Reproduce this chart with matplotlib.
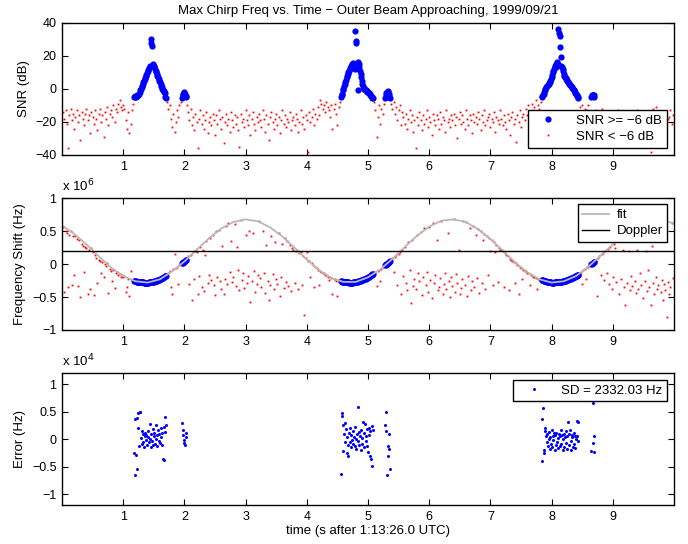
import matplotlib
matplotlib.use('Agg')
import matplotlib.pyplot as plt
from matplotlib.ticker import FuncFormatter
import numpy as np

plt.rcParams['font.family'] = ['Liberation Sans', 'DejaVu Sans']
plt.rcParams['font.size'] = 9

# ---- samples with SNR < -6 dB (red) : time, SNR (dB), freq shift (x1e6 Hz)
r1_t = [0.02, 0.04, 0.06, 0.08, 0.10, 0.12, 0.14, 0.16, 0.18, 0.20,
        0.22, 0.24, 0.26, 0.28, 0.30, 0.32, 0.34, 0.36, 0.38, 0.40,
        0.42, 0.44, 0.46, 0.48, 0.50, 0.52, 0.54, 0.56, 0.58, 0.60,
        0.62, 0.64, 0.66, 0.68, 0.70, 0.72, 0.74, 0.76, 0.78, 0.80,
        0.82, 0.84, 0.86, 0.88, 0.90, 0.92, 0.94, 0.96, 0.98, 1.00,
        1.02, 1.04, 1.06, 1.08, 1.10, 1.12, 1.14, 1.16]
r1_snr = [-14, -18, -13, -21, -36, -16, -12, -19, -15, -24,
          -17, -13, -20, -16, -31, -14, -18, -22, -15, -12,
          -19, -16, -27, -14, -17, -21, -13, -18, -25, -15,
          -12, -20, -16, -29, -14, -18, -11, -22, -15, -13,
          -17, -10, -20, -12, -14, -9, -7, -11, -13, -10,
          -12, -19, -24, -14, -27, -21, -13, -9]
r1_f = [0.56, -0.42, 0.51, 0.47, -0.35, 0.45, 0.50, -0.31, 0.43, -0.16,
        0.42, 0.38, -0.33, 0.36, -0.50, 0.31, 0.27, -0.12, 0.26, 0.24,
        -0.46, 0.22, -0.38, 0.25, 0.18, -0.47, 0.14, 0.10, -0.28, 0.07,
        0.05, -0.13, 0.04, -0.20, 0.00, -0.03, 0.02, -0.44, -0.07, -0.10,
        -0.25, -0.09, -0.36, -0.14, -0.12, -0.17, -0.15, -0.19, -0.16, -0.20,
        -0.18, -0.42, -0.35, -0.23, -0.48, -0.10, -0.24, -0.26]

r2_t = [1.72, 1.74, 1.76, 1.78, 1.80, 1.82, 1.84, 1.86, 1.88, 1.90, 1.92, 1.94]
r2_snr = [-8, -12, -10, -18, -23, -15, -26, -20, -13, -17, -10, -8]
r2_f = [-0.15, -0.13, -0.10, -0.35, -0.45, -0.08, 0.15, -0.06, -0.04, -0.30, -0.02, 0.00]

r3_t = [2.04, 2.06, 2.08, 2.10, 2.12, 2.14, 2.16, 2.18, 2.20, 2.22,
        2.24, 2.26, 2.28, 2.30, 2.32, 2.34, 2.36, 2.38, 2.40, 2.42,
        2.44, 2.46, 2.48, 2.50, 2.52, 2.54, 2.56, 2.58, 2.60, 2.62,
        2.64, 2.66, 2.68, 2.70, 2.72, 2.74, 2.76, 2.78, 2.80, 2.82,
        2.84, 2.86, 2.88, 2.90, 2.92, 2.94, 2.96, 2.98, 3.00, 3.02,
        3.04, 3.06, 3.08, 3.10, 3.12, 3.14, 3.16, 3.18, 3.20, 3.22,
        3.24, 3.26, 3.28, 3.30, 3.32, 3.34, 3.36, 3.38, 3.40, 3.42,
        3.44, 3.46, 3.48, 3.50, 3.52, 3.54, 3.56, 3.58, 3.60, 3.62,
        3.64, 3.66, 3.68, 3.70, 3.72, 3.74, 3.76, 3.78, 3.80, 3.82,
        3.84, 3.86, 3.88, 3.90, 3.92, 3.94, 3.96, 3.98, 4.00, 4.02,
        4.04, 4.06, 4.08, 4.10, 4.12, 4.14, 4.16, 4.18, 4.20, 4.22,
        4.24, 4.26, 4.28, 4.30, 4.32, 4.34, 4.36, 4.38, 4.40, 4.42,
        4.44, 4.46, 4.48, 4.50, 4.52, 4.54]
r3_snr = [-10, -14, -19, -12, -22, -17, -25, -15, -20, -36,
          -18, -13, -21, -16, -24, -19, -14, -27, -20, -17,
          -22, -15, -19, -28, -16, -21, -13, -18, -24, -17,
          -33, -20, -15, -22, -18, -26, -14, -19, -23, -16,
          -21, -17, -25, -35, -15, -20, -18, -23, -13, -19,
          -22, -16, -28, -18, -14, -21, -25, -17, -20, -15,
          -19, -23, -13, -18, -26, -16, -21, -31, -17, -14,
          -20, -24, -18, -15, -22, -17, -27, -19, -13, -21,
          -16, -23, -18, -20, -14, -25, -19, -17, -22, -15,
          -18, -26, -20, -13, -21, -17, -24, -16, -19, -38,
          -14, -20, -17, -12, -22, -15, -18, -11, -16, -7,
          -9, -12, -10, -14, -8, -11, -13, -17, -10, -24,
          -12, -9, -15, -22, -11, -8]
r3_f = [0.07, 0.12, -0.30, 0.14, -0.54, 0.18, -0.22, 0.20, 0.19, -0.46,
        -0.18, 0.26, -0.35, 0.22, -0.41, 0.14, 0.35, -0.28, -0.16, 0.40,
        -0.24, 0.45, -0.31, -0.47, 0.50, -0.20, 0.52, -0.26, -0.38, 0.28,
        -0.46, -0.22, 0.58, -0.30, 0.63, -0.12, 0.35, -0.27, -0.19, 0.61,
        -0.33, 0.26, -0.09, -0.40, 0.67, -0.24, -0.14, -0.36, 0.45, -0.28,
        -0.18, 0.50, -0.57, -0.25, 0.47, -0.11, -0.42, -0.30, -0.16, 0.66,
        -0.21, -0.35, 0.50, -0.13, -0.44, 0.29, -0.26, -0.55, -0.32, 0.42,
        -0.15, -0.38, 0.34, -0.23, -0.30, 0.47, -0.49, -0.19, 0.30, -0.36,
        0.40, -0.27, 0.35, -0.33, 0.29, -0.41, 0.24, 0.21, -0.28, 0.20,
        0.21, -0.37, 0.17, 0.19, -0.31, 0.13, -0.77, 0.10, 0.18, 0.05,
        0.05, -0.20, 0.02, -0.01, -0.34, -0.05, -0.06, -0.09, -0.32, -0.10,
        -0.12, -0.13, -0.14, -0.16, -0.17, -0.19, -0.24, -0.19, -0.21, -0.45,
        -0.23, -0.22, -0.25, -0.48, -0.26, -0.25]

r4_t = [5.10, 5.12, 5.14, 5.16, 5.18, 5.20, 5.22, 5.24, 5.26]
r4_snr = [-8, -13, -29, -17, -10, -21, -12, -15, -9]
r4_f = [-0.14, -0.12, -0.33, -0.10, -0.09, -0.25, -0.07, -0.05, -0.03]

r5_t = [5.38, 5.40, 5.42, 5.44, 5.46, 5.48, 5.50, 5.52, 5.54, 5.56,
        5.58, 5.60, 5.62, 5.64, 5.66, 5.68, 5.70, 5.72, 5.74, 5.76,
        5.78, 5.80, 5.82, 5.84, 5.86, 5.88, 5.90, 5.92, 5.94, 5.96,
        5.98, 6.00, 6.02, 6.04, 6.06, 6.08, 6.10, 6.12, 6.14, 6.16,
        6.18, 6.20, 6.22, 6.24, 6.26, 6.28, 6.30, 6.32, 6.34, 6.36,
        6.38, 6.40, 6.42, 6.44, 6.46, 6.48, 6.50, 6.52, 6.54, 6.56,
        6.58, 6.60, 6.62, 6.64, 6.66, 6.68, 6.70, 6.72, 6.74, 6.76,
        6.78, 6.80, 6.82, 6.84, 6.86, 6.88, 6.90, 6.92, 6.94, 6.96,
        6.98, 7.00, 7.02, 7.04, 7.06, 7.08, 7.10, 7.12, 7.14, 7.16,
        7.18, 7.20, 7.22, 7.24, 7.26, 7.28, 7.30, 7.32, 7.34, 7.36,
        7.38, 7.40, 7.42, 7.44, 7.46, 7.48, 7.50, 7.52, 7.54, 7.56,
        7.58, 7.60, 7.62, 7.64, 7.66, 7.68, 7.70, 7.72, 7.74, 7.76,
        7.78, 7.80, 7.82]
r5_snr = [-9, -12, -8, -15, -11, -19, -13, -10, -22, -14,
          -17, -21, -15, -24, -18, -13, -20, -16, -26, -19,
          -36, -17, -22, -14, -19, -25, -16, -21, -18, -13,
          -23, -17, -20, -28, -15, -19, -22, -16, -18, -24,
          -14, -21, -17, -19, -26, -13, -20, -18, -23, -16,
          -19, -15, -22, -17, -30, -18, -14, -21, -16, -20,
          -24, -13, -18, -22, -16, -19, -27, -15, -20, -17,
          -21, -14, -18, -25, -16, -20, -13, -22, -19, -17,
          -15, -23, -18, -20, -14, -26, -17, -19, -21, -13,
          -18, -22, -16, -20, -24, -15, -19, -28, -17, -14,
          -21, -18, -32, -16, -20, -13, -23, -17, -15, -19,
          -12, -16, -10, -14, -19, -9, -13, -11, -7, -15,
          -10, -12, -8]
r5_f = [0.07, 0.09, -0.12, 0.11, 0.14, -0.31, 0.16, 0.18, -0.45, 0.22,
        -0.18, 0.26, -0.28, -0.40, 0.33, -0.09, -0.59, 0.37, -0.33, -0.22,
        -0.38, 0.44, -0.14, -0.26, 0.49, -0.47, -0.20, 0.55, -0.31, -0.12,
        -0.43, 0.56, -0.24, -0.52, 0.63, -0.29, -0.17, 0.36, -0.40, -0.34,
        -0.21, 0.66, -0.45, -0.30, -0.13, -0.37, 0.47, -0.25, -0.50, -0.19,
        -0.33, 0.68, -0.42, -0.15, -0.28, 0.21, -0.46, -0.36, -0.23, 0.66,
        -0.31, 0.64, -0.48, -0.18, 0.55, -0.40, -0.26, 0.58, -0.34, 0.45,
        -0.21, 0.53, -0.44, 0.50, -0.29, 0.36, 0.46, -0.38, 0.43, -0.16,
        0.39, 0.20, 0.36, -0.32, 0.33, 0.19, 0.29, -0.27, 0.25, 0.21,
        0.22, 0.20, -0.35, 0.17, 0.14, 0.12, -0.40, 0.08, 0.07, 0.05,
        0.04, -0.28, 0.01, -0.01, -0.46, -0.05, -0.06, -0.22, -0.09, -0.10,
        -0.11, -0.13, -0.14, -0.32, -0.16, -0.17, -0.19, -0.20, -0.21, -0.38,
        -0.22, -0.23, -0.24]

r6_t = [8.46, 8.48, 8.50, 8.52, 8.54, 8.56, 8.58, 8.60, 8.62]
r6_snr = [-11, -14, -10, -16, -12, -18, -13, -10, -15]
r6_f = [-0.14, -0.12, -0.30, -0.09, -0.07, -0.22, -0.05, -0.04, -0.02]

r7_t = [8.72, 8.74, 8.76, 8.78, 8.80, 8.82, 8.84, 8.86, 8.88, 8.90,
        8.92, 8.94, 8.96, 8.98, 9.00, 9.02, 9.04, 9.06, 9.08, 9.10,
        9.12, 9.14, 9.16, 9.18, 9.20, 9.22, 9.24, 9.26, 9.28, 9.30,
        9.32, 9.34, 9.36, 9.38, 9.40, 9.42, 9.44, 9.46, 9.48, 9.50,
        9.52, 9.54, 9.56, 9.58, 9.60, 9.62, 9.64, 9.66, 9.68, 9.70,
        9.72, 9.74, 9.76, 9.78, 9.80, 9.82, 9.84, 9.86, 9.88, 9.90,
        9.92, 9.94, 9.96, 9.98]
r7_snr = [-13, -17, -21, -15, -19, -12, -24, -18, -16, -20,
          -14, -22, -17, -19, -26, -15, -20, -18, -13, -23,
          -17, -19, -15, -21, -18, -28, -16, -20, -14, -22,
          -18, -16, -24, -19, -13, -21, -17, -20, -15, -23,
          -19, -14, -22, -17, -20, -38, -16, -12, -18, -11,
          -21, -17, -15, -23, -19, -16, -25, -14, -20, -18,
          -17, -13, -21, -16]
r7_f = [0.06, -0.48, 0.09, 0.12, -0.16, 0.15, 0.17, -0.24, 0.20, -0.14,
        0.23, -0.30, 0.26, -0.37, -0.20, 0.30, 0.24, -0.27, 0.35, -0.45,
        0.38, -0.22, 0.21, -0.34, -0.62, 0.46, -0.29, 0.20, -0.40, -0.18,
        -0.33, 0.55, -0.26, -0.44, 0.22, -0.38, -0.13, -0.31, 0.61, -0.52,
        -0.25, 0.20, -0.41, -0.09, -0.35, -0.62, 0.27, -0.28, -0.46, -0.20,
        -0.37, -0.31, 0.68, -0.43, -0.24, -0.55, -0.30, -0.39, -0.80, -0.27,
        -0.45, -0.34, 0.63, -0.21]

# ---- samples with SNR >= -6 dB (blue): time, SNR, freq (x1e6 Hz), error (x1e4 Hz)
b1_t = [1.18, 1.19, 1.20, 1.21, 1.22, 1.23, 1.24, 1.25, 1.26, 1.27,
        1.28, 1.29, 1.30, 1.31, 1.32, 1.33, 1.34, 1.35, 1.36, 1.37,
        1.38, 1.39, 1.40, 1.41, 1.42, 1.43, 1.44, 1.45, 1.46, 1.47,
        1.48, 1.49, 1.50, 1.51, 1.52, 1.53, 1.54, 1.55, 1.56, 1.57,
        1.58, 1.59, 1.60, 1.61, 1.62, 1.63, 1.64, 1.65, 1.66, 1.67,
        1.68, 1.69, 1.70]
b1_snr = [-5, -5, -4.5, -5, -4.5, -4, -4, -3.5, -3, -2,
          -1, 0, 1, 2, 3, 4, 5, 6, 6.5, 7.5,
          8.5, 9.5, 10.5, 11.5, 12.5, 13, 14, 28, 30, 26,
          15, 14.5, 14, 13, 12, 11, 10, 9, 8, 7,
          6, 5, 4, 3, 2, 1, 0, -1, -1.5, -2,
          -2.5, -5, -5.5]
b1_f = [-0.255, -0.257, -0.260, -0.262, -0.264, -0.266, -0.268, -0.270, -0.271, -0.272,
        -0.273, -0.274, -0.275, -0.276, -0.277, -0.278, -0.279, -0.280, -0.280, -0.280,
        -0.280, -0.280, -0.280, -0.279, -0.278, -0.277, -0.276, -0.275, -0.273, -0.271,
        -0.269, -0.267, -0.265, -0.262, -0.259, -0.256, -0.253, -0.250, -0.246, -0.242,
        -0.238, -0.234, -0.230, -0.225, -0.220, -0.215, -0.210, -0.205, -0.199, -0.193,
        -0.187, -0.181, -0.175]
b1_err = [-0.25, 0.36, -0.66, -0.28, 0.39, -0.55, 0.47, 0.20, -0.12, 0.50,
          0.49, 0.02, -0.08, 0.15, -0.05, 0.10, -0.15, 0.06, 0.12, -0.02,
          0.08, -0.10, 0.03, 0.14, -0.06, 0.27, 0.01, -0.14, 0.09, -0.04,
          0.18, -0.11, 0.05, 0.11, -0.09, 0.26, 0.00, -0.13, 0.07, 0.16,
          -0.03, 0.10, -0.07, 0.21, 0.04, -0.10, 0.12, -0.36, -0.38, 0.22,
          0.13, 0.40, 0.25]

bb1_t = [1.96, 1.97, 1.98, 1.99, 2.00, 2.01, 2.02, 2.03]
bb1_snr = [-5.5, -4, -3, -2, -2.5, -3, -4.5, -5]
bb1_f = [0.010, 0.018, 0.025, 0.033, 0.040, 0.049, 0.058, 0.067]
bb1_err = [0.30, 0.17, 0.08, -0.01, -0.07, -0.10, 0.12, 0.03]

b2_t = [4.56, 4.57, 4.58, 4.59, 4.60, 4.61, 4.62, 4.63, 4.64, 4.65,
        4.66, 4.67, 4.68, 4.69, 4.70, 4.71, 4.72, 4.73, 4.74, 4.75,
        4.76, 4.77, 4.78, 4.79, 4.80, 4.81, 4.82, 4.83, 4.84, 4.85,
        4.86, 4.87, 4.88, 4.89, 4.90, 4.91, 4.92, 4.93, 4.94, 4.95,
        4.96, 4.97, 4.98, 4.99, 5.00, 5.01, 5.02, 5.03, 5.04, 5.05,
        5.06, 5.07, 5.08]
b2_snr = [-5, -4, -3, -1, 0, 1.5, 3, 4, 5.5, 7,
          8, 9, 10, 11, 12, 12.5, 13.5, 14, 15, 15.5,
          14, 13, 12, 35, 28, 29, 14, -1, 16, 15,
          13, 11, 9, 7, 5, 3, 1.5, 0.5, 0, -0.5,
          -1, -1, -1.5, -2, -2, -2.5, -2.5, -3, -3.5, -4.5,
          -5, -5.5, -5.5]
b2_f = [-0.258, -0.261, -0.264, -0.267, -0.270, -0.271, -0.272, -0.273, -0.274, -0.275,
        -0.276, -0.277, -0.278, -0.279, -0.280, -0.280, -0.280, -0.280, -0.280, -0.280,
        -0.278, -0.276, -0.274, -0.272, -0.270, -0.268, -0.266, -0.264, -0.262, -0.260,
        -0.257, -0.254, -0.251, -0.248, -0.245, -0.241, -0.237, -0.233, -0.229, -0.225,
        -0.220, -0.215, -0.210, -0.205, -0.200, -0.194, -0.188, -0.182, -0.176, -0.170,
        -0.163, -0.157, -0.150]
b2_err = [-0.63, 0.47, 0.42, -0.21, 0.26, 0.10, 0.29, -0.05, 0.18, -0.25,
          0.04, -0.10, -0.30, 0.12, -0.06, 0.20, -0.15, 0.07, -0.02, 0.15,
          -0.09, 0.03, -0.12, 0.22, 0.01, -0.18, 0.09, 0.59, -0.04, 0.13,
          -0.11, 0.06, -0.20, 0.16, 0.02, -0.08, 0.32, 0.11, -0.14, 0.28,
          0.05, -0.03, 0.19, -0.12, -0.24, 0.08, 0.21, -0.30, 0.14, -0.37,
          -0.49, 0.24, 0.17]

bb2_t = [5.28, 5.29, 5.30, 5.31, 5.32, 5.33, 5.34, 5.35, 5.36]
bb2_snr = [-5.5, -4, -2.5, -2, -1.5, -2, -3, -4.5, -5.5]
bb2_f = [-0.016, -0.008, 0.000, 0.008, 0.016, 0.024, 0.032, 0.040, 0.048]
bb2_err = [0.25, 0.14, 0.50, -0.65, -0.31, -0.12, -0.18, 0.09, -0.54]

b3_t = [7.84, 7.85, 7.86, 7.87, 7.88, 7.89, 7.90, 7.91, 7.92, 7.93,
        7.94, 7.95, 7.96, 7.97, 7.98, 7.99, 8.00, 8.01, 8.02, 8.03,
        8.04, 8.05, 8.06, 8.07, 8.08, 8.09, 8.10, 8.11, 8.12, 8.13,
        8.14, 8.15, 8.16, 8.17, 8.18, 8.19, 8.20, 8.21, 8.22, 8.23,
        8.24, 8.25, 8.26, 8.27, 8.28, 8.29, 8.30, 8.31, 8.32, 8.33,
        8.34, 8.35, 8.36, 8.37, 8.38, 8.39, 8.40, 8.41, 8.42, 8.43,
        8.44]
b3_snr = [-5, -4.5, -4, -3, -2, -1, 0, 1, 1.5, 2,
          2.5, 3, 3.5, 4, 5, 6, 7, 8.5, 10, 11,
          12, 13, 14, 15, 13.5, 16, 15, 36, 34, 32,
          25, 19.5, 14, 13, 12, 10.5, 9, 8, 7, 6.5,
          6, 5.5, 5, 4, 3.5, 3, 2.5, 2, 1.5, 1,
          0.5, 0, -0.5, -1, -2, -2.5, -3, -4, -4.5, -5,
          -5.5]
b3_f = [-0.242, -0.245, -0.248, -0.251, -0.254, -0.257, -0.260, -0.262, -0.264, -0.266,
        -0.268, -0.270, -0.272, -0.274, -0.276, -0.278, -0.280, -0.280, -0.280, -0.279,
        -0.279, -0.278, -0.277, -0.277, -0.276, -0.276, -0.275, -0.274, -0.272, -0.271,
        -0.269, -0.268, -0.266, -0.265, -0.263, -0.262, -0.260, -0.257, -0.253, -0.250,
        -0.246, -0.243, -0.239, -0.236, -0.232, -0.229, -0.225, -0.221, -0.216, -0.212,
        -0.207, -0.203, -0.198, -0.194, -0.189, -0.185, -0.180, -0.175, -0.170, -0.165,
        -0.160]
b3_err = [0.37, -0.40, 0.56, -0.25, -0.20, 0.20, 0.15, 0.05, -0.05, 0.10,
          -0.12, 0.00, 0.13, -0.18, 0.03, -0.08, 0.16, -0.15, 0.06, -0.02,
          0.11, -0.19, 0.08, -0.10, 0.12, -0.06, 0.02, -0.17, 0.09, -0.13,
          0.05, 0.17, -0.09, 0.07, -0.19, 0.01, 0.10, -0.15, 0.04, -0.07,
          0.14, -0.18, 0.06, 0.32, -0.11, 0.09, 0.17, -0.04, -0.19, 0.08,
          0.03, -0.14, 0.12, -0.08, 0.05, -0.16, 0.00, 0.06, 0.33, 0.31,
          -0.03]

bb3_t = [8.65, 8.66, 8.67, 8.68, 8.69, 8.70]
bb3_snr = [-5, -4, -3.5, -3.5, -4, -5]
bb3_f = [0.000, 0.008, 0.016, 0.024, 0.032, 0.040]
bb3_err = [-0.21, 0.75, 0.66, -0.07, -0.24, 0.05]

# ---- fitted Doppler curve (x1e6 Hz)
fit_t = [0.0, 0.2, 0.4, 0.6, 0.8, 1.0, 1.2, 1.4, 1.6, 1.8,
         2.0, 2.2, 2.4, 2.6, 2.8, 3.0, 3.2, 3.4, 3.6, 3.8,
         4.0, 4.2, 4.4, 4.6, 4.8, 5.0, 5.2, 5.4, 5.6, 5.8,
         6.0, 6.2, 6.4, 6.6, 6.8, 7.0, 7.2, 7.4, 7.6, 7.8,
         8.0, 8.2, 8.4, 8.6, 8.8, 9.0, 9.2, 9.4, 9.6, 9.8,
         10.0]
fit_f = [0.59, 0.46, 0.30, 0.12, -0.05, -0.18, -0.26, -0.28, -0.23, -0.11,
         0.04, 0.22, 0.39, 0.54, 0.64, 0.68, 0.65, 0.56, 0.42, 0.25,
         0.07, -0.09, -0.21, -0.27, -0.27, -0.20, -0.08, 0.08, 0.26, 0.43,
         0.57, 0.66, 0.68, 0.64, 0.53, 0.38, 0.21, 0.03, -0.12, -0.23,
         -0.28, -0.26, -0.18, -0.04, 0.13, 0.30, 0.47, 0.60, 0.67, 0.67,
         0.62]
doppler_f = 0.2
sd_text = 'SD = 2332.03 Hz'

red_t = np.array(r1_t + r2_t + r3_t + r4_t + r5_t + r6_t + r7_t)
red_snr = np.array(r1_snr + r2_snr + r3_snr + r4_snr + r5_snr + r6_snr + r7_snr)
red_f = np.array(r1_f + r2_f + r3_f + r4_f + r5_f + r6_f + r7_f) * 1e6

blue_t = np.array(b1_t + bb1_t + b2_t + bb2_t + b3_t + bb3_t)
blue_snr = np.array(b1_snr + bb1_snr + b2_snr + bb2_snr + b3_snr + bb3_snr)
blue_f = np.array(b1_f + bb1_f + b2_f + bb2_f + b3_f + bb3_f) * 1e6
blue_err = np.array(b1_err + bb1_err + b2_err + bb2_err + b3_err + bb3_err) * 1e4

MINUS = '\u2212'


def scaled(power):
    return FuncFormatter(lambda v, p: ('%g' % round(v / 10 ** power, 3)).replace('-', MINUS))


def style(ax):
    ax.set_xlim(0, 10)
    ax.set_xticks(range(1, 10))
    ax.tick_params(direction='in', top=True, right=True, length=4, width=0.8,
                   labelsize=9, pad=4)
    for s in ax.spines.values():
        s.set_linewidth(1.0)


leg_kw = dict(fancybox=False, edgecolor='k', framealpha=1, fontsize=9.5,
              borderaxespad=0, borderpad=0.35, labelspacing=0.3)

fig = plt.figure(figsize=(6.88, 5.44), dpi=100)
ax1 = fig.add_axes([0.0901, 0.7151, 0.8895, 0.2432])
ax2 = fig.add_axes([0.0901, 0.3934, 0.8895, 0.2421])
ax3 = fig.add_axes([0.0901, 0.0717, 0.8895, 0.2421])

# SNR
ax1.plot(blue_t, blue_snr, 'o', color='b', ms=4.5, mew=0, label='SNR >= ' + MINUS + '6 dB')
ax1.plot(red_t, red_snr, 's', color='r', ms=1.3, mew=0, label='SNR < ' + MINUS + '6 dB')
style(ax1)
ax1.set_ylim(-40, 40)
ax1.set_yticks([-40, -20, 0, 20, 40])
ax1.yaxis.set_major_formatter(scaled(0))
ax1.set_ylabel('SNR (dB)', fontsize=9.5)
ax1.set_title('Max Chirp Freq vs. Time ' + MINUS + ' Outer Beam Approaching, 1999/09/21',
              fontsize=9.5, pad=6)
ax1.legend(loc='lower right', bbox_to_anchor=(0.988, 0.055), handlelength=2.4,
           handletextpad=0.9, **leg_kw)

# Frequency shift
ax2.plot(red_t, red_f, 's', color='r', ms=1.3, mew=0)
ax2.plot(blue_t, blue_f, 'o', color='b', ms=4.5, mew=0)
ax2.plot(fit_t, np.array(fit_f) * 1e6, color='0.72', lw=1.3, label='fit')
ax2.axhline(doppler_f * 1e6, color='k', lw=1.0, label='Doppler')
style(ax2)
ax2.set_ylim(-1e6, 1e6)
ax2.set_yticks([-1e6, -0.5e6, 0, 0.5e6, 1e6])
ax2.yaxis.set_major_formatter(scaled(6))
ax2.set_ylabel('Frequency Shift (Hz)', fontsize=9.5)
ax2.text(0.0, 1.03, 'x 10$^{6}$', transform=ax2.transAxes, fontsize=9.5, va='bottom')
ax2.legend(loc='upper right', bbox_to_anchor=(0.989, 0.954), handlelength=2.0,
           handletextpad=0.6, **leg_kw)

# Error
ax3.plot(blue_t, blue_err, 'o', color='b', ms=2.2, mew=0, label=sd_text)
style(ax3)
ax3.set_ylim(-1.2e4, 1.2e4)
ax3.set_yticks([-1e4, -0.5e4, 0, 0.5e4, 1e4])
ax3.yaxis.set_major_formatter(scaled(4))
ax3.set_ylabel('Error (Hz)', fontsize=9.5)
ax3.set_xlabel('time (s after 1:13:26.0 UTC)', fontsize=9.5, labelpad=2)
ax3.text(0.0, 1.03, 'x 10$^{4}$', transform=ax3.transAxes, fontsize=9.5, va='bottom')
ax3.legend(loc='upper right', bbox_to_anchor=(0.989, 0.949), handlelength=2.4,
           handletextpad=0.9, **leg_kw)

fig.savefig('out.png', dpi=100)
